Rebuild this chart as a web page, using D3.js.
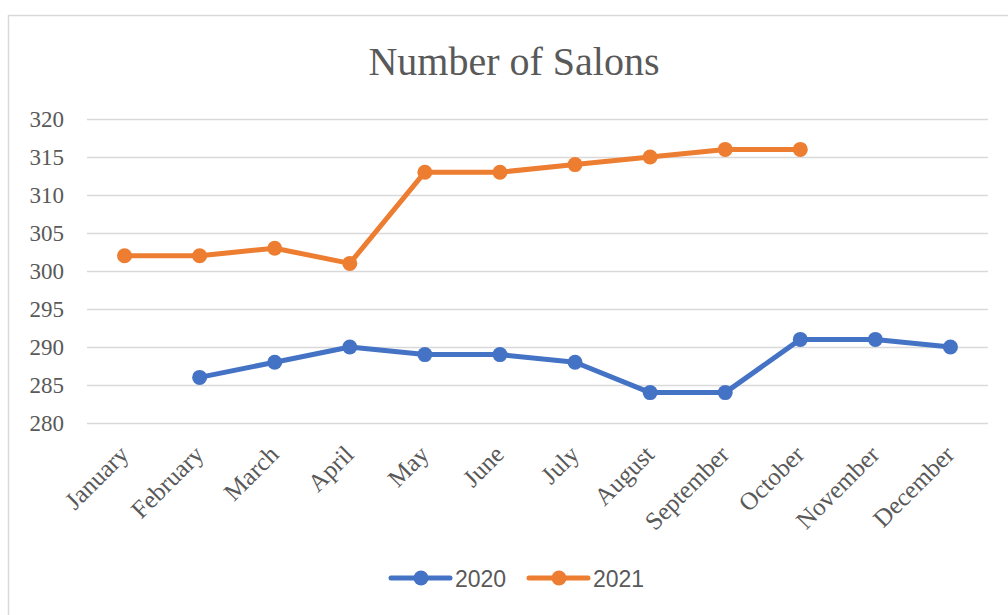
<!DOCTYPE html>
<html><head><meta charset="utf-8">
<script src="https://cdn.jsdelivr.net/npm/d3@7"></script>
<style>body{margin:0;background:#fff}svg{display:block}</style>
</head><body><svg id="c" width="1008" height="615"></svg>
<script>
const months = ["January","February","March","April","May","June","July","August","September","October","November","December"];
const series2020 = [null,286,288,290,289,289,288,284,284,291,291,290];
const series2021 = [302,302,303,301,313,313,314,315,316,316,null,null];
const yTicks = [280,285,290,295,300,305,310,315,320];
const seriesNames = ["2020","2021"];
const colors = ["#4472C4","#ED7D31"];

(function(){
const svg = d3.select("#c");
svg.append("rect").attr("x",8.5).attr("y",15.5).attr("width",1010).attr("height",620)
  .attr("fill","#fff").attr("stroke","#d9d9d9").attr("stroke-width",1.5);

const pl=87,pr=988,pt=119,pb=423;
const x = d3.scalePoint().domain(months).range([pl,pr]).padding(0.5);
const y = d3.scaleLinear().domain([280,320]).range([pb,pt]);

svg.append("text").attr("x",514).attr("y",75).attr("text-anchor","middle")
  .attr("font-family","Liberation Serif").attr("font-size",40).attr("fill","#595959").text("Number of Salons");

const gy = svg.append("g").attr("transform",`translate(${pl},0)`)
  .call(d3.axisLeft(y).tickValues(yTicks).tickSize(-(pr-pl)).tickPadding(23));
gy.select(".domain").remove();
gy.selectAll(".tick line").attr("stroke","#d9d9d9").attr("stroke-width",1.5);
gy.selectAll(".tick text").attr("font-family","Liberation Serif").attr("font-size",23).attr("fill","#595959");

const gx = svg.append("g").attr("transform",`translate(0,${pb})`)
  .call(d3.axisBottom(x).tickSize(0).tickPadding(0));
gx.select(".domain").remove();
gx.selectAll(".tick text").attr("font-family","Liberation Serif").attr("font-size",25).attr("fill","#595959")
  .attr("text-anchor","end").attr("dy",0).attr("transform","translate(5,33) rotate(-45)");

[series2020,series2021].forEach((s,i)=>{
  const pts = months.map((m,j)=>({m,v:s[j]})).filter(d=>d.v!=null);
  const line = d3.line().x(d=>x(d.m)).y(d=>y(d.v));
  svg.append("path").datum(pts).attr("d",line).attr("fill","none").attr("stroke",colors[i])
    .attr("stroke-width",5).attr("stroke-linejoin","round").attr("stroke-linecap","round");
  svg.selectAll(null).data(pts).enter().append("circle").attr("cx",d=>x(d.m)).attr("cy",d=>y(d.v))
    .attr("r",7.5).attr("fill",colors[i]);
});

const lg = svg.append("g");
seriesNames.forEach((n,i)=>{
  const x0 = 391 + i*138;
  lg.append("line").attr("x1",x0).attr("x2",x0+59).attr("y1",578).attr("y2",578)
    .attr("stroke",colors[i]).attr("stroke-width",5).attr("stroke-linecap","round");
  lg.append("circle").attr("cx",x0+30).attr("cy",578).attr("r",7.5).attr("fill",colors[i]);
  lg.append("text").attr("x",x0+64).attr("y",587).attr("font-family","Liberation Sans").attr("font-size",23)
    .attr("fill","#595959").text(n);
});
})();
</script></body></html>
